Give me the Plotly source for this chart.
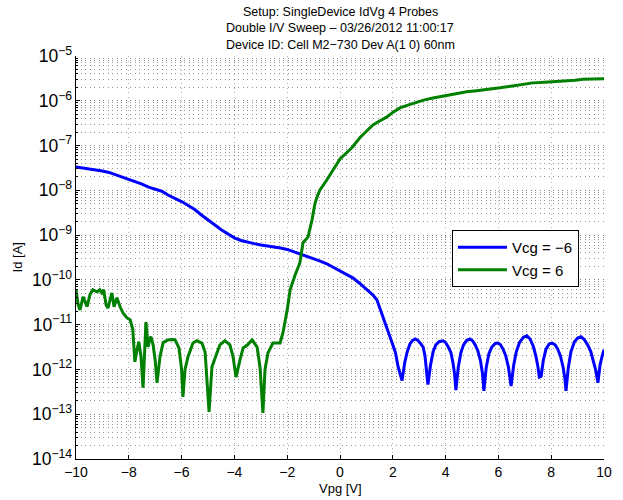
import numpy as np
import plotly.graph_objects as go

# ---- data (Id values stored as log10(Id [A])) ----
vpg_neg6 = [-10, -9.75, -9.5, -9.25, -9, -8.75, -8.5, -8.25, -8, -7.75, -7.5, -7.25, -7, -6.75,
            -6.5, -6.25, -6, -5.75, -5.5, -5.25, -5, -4.75, -4.5, -4.25, -4, -3.75, -3.5, -3.25,
            -3, -2.75, -2.5, -2.25, -2, -1.75, -1.5, -1.25, -1, -0.75, -0.5, -0.25, 0, 0.25, 0.5,
            0.75, 1.0, 1.25, 1.4, 1.55, 1.7, 1.85, 2.0, 2.1, 2.2, 2.3, 2.35,
            2.45, 2.55, 2.65, 2.75, 2.85, 2.95, 3.05, 3.15, 3.22, 3.28, 3.33,
            3.43, 3.53, 3.63, 3.75, 3.9, 4.0, 4.1, 4.2, 4.28, 4.34, 4.39,
            4.48, 4.58, 4.68, 4.8, 4.92, 5.02, 5.12, 5.22, 5.32, 5.4, 5.45,
            5.54, 5.64, 5.75, 5.88, 5.98, 6.08, 6.18, 6.28, 6.38, 6.44, 6.48,
            6.58, 6.68, 6.8, 6.95, 7.08, 7.2, 7.32, 7.42, 7.5, 7.55, 7.62,
            7.7, 7.8, 7.92, 8.03, 8.15, 8.25, 8.35, 8.45, 8.52, 8.56,
            8.65, 8.75, 8.88, 9.0, 9.13, 9.25, 9.38, 9.5, 9.6, 9.7, 9.77,
            9.85, 9.93, 10.0]
log_id_neg6 = [-7.48, -7.50, -7.53, -7.54, -7.57, -7.60, -7.65, -7.70, -7.76, -7.80, -7.86, -7.93,
               -7.98, -8.02, -8.11, -8.18, -8.25, -8.34, -8.43, -8.55, -8.65, -8.77, -8.88, -8.98,
               -9.06, -9.12, -9.16, -9.19, -9.22, -9.24, -9.27, -9.29, -9.32, -9.37, -9.42, -9.47,
               -9.52, -9.58, -9.64, -9.72, -9.80, -9.87, -9.96, -10.08, -10.20, -10.34, -10.45,
               -10.68, -10.95, -11.20, -11.45, -11.62, -11.94, -12.15, -12.25,
               -11.85, -11.60, -11.43, -11.35, -11.32, -11.35, -11.42, -11.50, -11.70, -12.00, -12.34,
               -11.90, -11.60, -11.45, -11.38, -11.36, -11.40, -11.50, -11.62, -11.85, -12.10, -12.46,
               -11.95, -11.62, -11.45, -11.35, -11.32, -11.36, -11.45, -11.58, -11.80, -12.10, -12.48,
               -11.95, -11.65, -11.50, -11.42, -11.41, -11.45, -11.55, -11.70, -11.95, -12.15, -12.37,
               -11.90, -11.60, -11.40, -11.28, -11.25, -11.32, -11.48, -11.70, -11.95, -12.17, -12.15,
               -11.80, -11.55, -11.43, -11.41, -11.45, -11.55, -11.70, -11.95, -12.20, -12.48,
               -11.95, -11.60, -11.38, -11.30, -11.27, -11.33, -11.45, -11.60, -11.80, -12.05, -12.30,
               -11.90, -11.70, -11.56]

vpg_pos6 = [-10, -9.92, -9.85, -9.73, -9.58, -9.47, -9.36, -9.2, -9.1, -9.02, -8.95, -8.86, -8.79,
            -8.64, -8.56, -8.45, -8.33, -8.22, -8.07, -7.95, -7.85, -7.77, -7.7, -7.62, -7.54,
            -7.46, -7.4, -7.35, -7.3, -7.27, -7.2, -7.16, -7.08, -7.0, -6.93, -6.82, -6.7, -6.52,
            -6.35, -6.25, -6.1, -6.0, -5.95, -5.87, -5.76, -5.57, -5.42, -5.23, -5.11, -5.04,
            -4.96, -4.85, -4.7, -4.55, -4.36, -4.17, -4.05, -3.94, -3.79, -3.67, -3.5, -3.33,
            -3.14, -3.03, -2.92, -2.84, -2.73, -2.54, -2.27, -2.16, -2.0, -1.89, -1.7, -1.52,
            -1.4, -1.21, -1.06, -0.95, -0.87, -0.76, -0.5, -0.27, 0.0, 0.45, 0.76, 1.0, 1.25,
            1.5, 1.78, 2.0, 2.27, 2.6, 2.92, 3.2, 3.52, 3.85, 4.17, 4.5, 4.8, 5.1, 5.42, 5.75,
            6.06, 6.4, 6.7, 7.0, 7.3, 7.6, 7.95, 8.3, 8.6, 8.9, 9.2, 9.6, 10.0]
log_id_pos6 = [-10.22, -10.55, -10.67, -10.38, -10.60, -10.33, -10.22, -10.27, -10.22, -10.29,
               -10.22, -10.56, -10.63, -10.29, -10.60, -10.40, -10.60, -10.74, -10.85, -10.89,
               -11.10, -11.83, -11.60, -11.38, -11.70, -12.41, -11.60, -10.94, -11.30, -11.50,
               -11.30, -11.27, -11.45, -11.80, -12.30, -11.72, -11.40, -11.34, -11.33, -11.34,
               -11.52, -12.00, -12.61, -12.00, -11.72, -11.41, -11.36, -11.41, -11.61, -12.17,
               -12.95, -11.94, -11.68, -11.45, -11.36, -11.45, -11.72, -12.17, -11.79, -11.52,
               -11.45, -11.34, -11.50, -11.95, -12.97, -12.00, -11.63, -11.41, -11.41, -11.18,
               -10.67, -10.22, -9.89, -9.62, -9.17, -9.04, -8.66, -8.30, -8.15, -7.99, -7.77,
               -7.54, -7.30, -7.05, -6.82, -6.68, -6.54, -6.45, -6.36, -6.26, -6.16, -6.09,
               -6.03, -5.98, -5.94, -5.90, -5.87, -5.83, -5.80, -5.78, -5.76, -5.73, -5.71,
               -5.68, -5.65, -5.62, -5.60, -5.59, -5.58, -5.57, -5.56, -5.54, -5.52, -5.51, -5.51]

series_names = ["Vcg = \u22126", "Vcg = 6"]
series_colors = ["rgb(0,0,255)", "rgb(0,128,0)"]
x_ticks = [-10, -8, -6, -4, -2, 0, 2, 4, 6, 8, 10]
title_lines = ["Setup: SingleDevice IdVg 4 Probes",
               "Double I/V Sweep \u2013 03/26/2012 11:00:17",
               "Device ID: Cell M2\u2212730 Dev A(1 0) 60nm"]
x_label = "Vpg [V]"
y_label = "Id [A]"

FONT = "Liberation Sans, Arial, Helvetica, sans-serif"
DOT = "1px,3.5px"

fig = go.Figure()
for xs, ls, name, col in [(vpg_neg6, log_id_neg6, series_names[0], series_colors[0]),
                          (vpg_pos6, log_id_pos6, series_names[1], series_colors[1])]:
    fig.add_trace(go.Scatter(x=xs, y=10 ** np.array(ls), mode="lines", name=name,
                             line=dict(color=col, width=3)))

annos = []
for i, t in enumerate(title_lines):
    annos.append(dict(text=t, x=0.5, xref="paper", xanchor="center",
                      y=1.109 - i * 0.0405, yref="paper", yanchor="middle",
                      showarrow=False, font=dict(family=FONT, size=12.5, color="black")))
annos.append(dict(text=x_label, x=0.5, xref="paper", xanchor="center",
                  y=-0.072, yref="paper", yanchor="middle", showarrow=False,
                  font=dict(family=FONT, size=13, color="black")))
annos.append(dict(text=y_label, x=-0.110, xref="paper", xanchor="center",
                  y=0.5, yref="paper", yanchor="middle", textangle=-90, showarrow=False,
                  font=dict(family=FONT, size=13, color="black")))

fig.update_layout(
    width=623, height=500,
    margin=dict(l=76, r=19, t=56, b=41, autoexpand=False),
    paper_bgcolor="white", plot_bgcolor="white",
    font=dict(family=FONT, size=14, color="black"),
    annotations=annos,
    legend=dict(x=0.712, y=0.568, xanchor="left", yanchor="top",
                bgcolor="white", bordercolor="black", borderwidth=1,
                font=dict(family=FONT, size=15, color="black"),
                itemwidth=49, tracegroupgap=4),
    showlegend=True,
)

fig.update_xaxes(
    range=[-10, 10], tickvals=x_ticks, ticks="inside", ticklen=4, tickcolor="black",
    showline=True, linecolor="black", linewidth=1, mirror=False, zeroline=False,
    showgrid=True, gridcolor="rgba(0,0,0,0.3)", griddash=DOT, gridwidth=1,
    tickfont=dict(family=FONT, size=14, color="black"), automargin=False,
)
fig.update_yaxes(
    type="log", range=[-14, -5], dtick=1, exponentformat="power",
    ticks="inside", ticklen=4, tickcolor="black",
    showline=True, linecolor="black", linewidth=1, mirror=False, zeroline=False,
    showgrid=True, gridcolor="rgba(0,0,0,0.5)", griddash=DOT, gridwidth=1,
    minor=dict(dtick="D1", showgrid=True, gridcolor="rgba(0,0,0,0.42)", griddash=DOT,
               ticks="inside", ticklen=2, tickcolor="black"),
    tickfont=dict(family=FONT, size=14, color="black"), automargin=False,
)

fig.write_html("out.html", config={"displayModeBar": False},
               post_script="document.body.style.margin='0';document.body.style.padding='0';")
